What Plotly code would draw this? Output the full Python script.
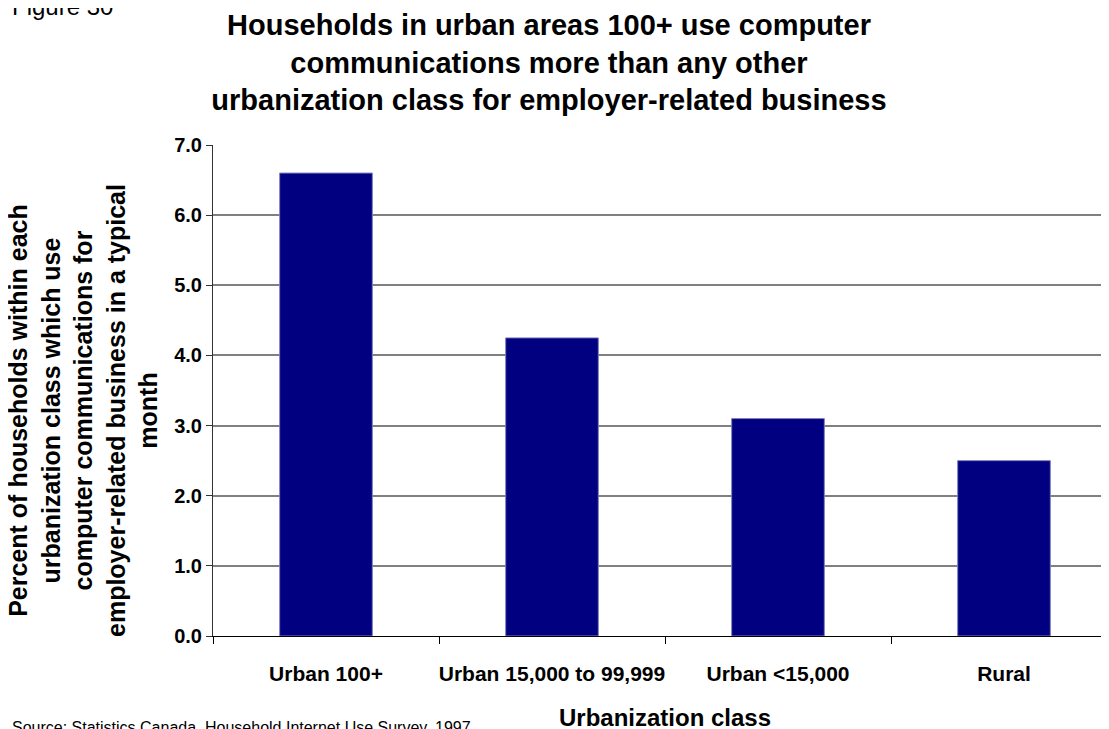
import plotly.graph_objects as go

categories = ["Urban 100+", "Urban 15,000 to 99,999", "Urban <15,000", "Rural"]
values = [6.6, 4.25, 3.1, 2.5]
y_ticks = [0, 1, 2, 3, 4, 5, 6, 7]

title_text = ("Households in urban areas 100+ use computer<br>"
              "communications more than any other<br>"
              "urbanization class for employer-related business")
y_title = ("Percent of households within each<br>urbanization class which use<br>"
           "computer communications for<br>employer-related business in a typical<br>month")
x_title = "Urbanization class"
source_text = "Source: Statistics Canada, Household Internet Use Survey, 1997"
figure_label = "Figure 30"

FONT = "Liberation Sans, Arial, sans-serif"

OFF = 8  # page body margin
W, H = 1109 - OFF, 729 - OFF
L, R, T, B = 213 - OFF, 0, 145 - OFF, H - (636 - OFF)
pw, ph = W - L - R, H - T - B
CAT = 226.0


def px_x(page_x):
    return (page_x - OFF - L) / pw


def px_y(page_y):
    return (H - B - (page_y - OFF)) / ph


fig = go.Figure()
fig.add_trace(go.Bar(
    x=categories, y=values, width=0.41,
    marker=dict(color="#000080", line=dict(color="#8080c0", width=1)),
    hoverinfo="x+y",
))

fig.update_layout(
    width=W, height=H,
    margin=dict(l=L, r=R, t=T, b=B, pad=0, autoexpand=False),
    paper_bgcolor="white", plot_bgcolor="white",
    showlegend=False,
    font=dict(family=FONT, color="black"),
    title=dict(text="<b>" + title_text + "</b>", xref="container", yref="container",
               x=(549 - OFF) / W, y=1 - (35 - OFF) / H, xanchor="center", yanchor="middle",
               font=dict(size=29, family=FONT, color="black"), automargin=False),
)

fig.update_xaxes(
    type="category", range=[-0.5, -0.5 + pw / CAT],
    showline=True, linecolor="black", linewidth=1,
    ticks="outside", tickson="boundaries", ticklen=7, tickcolor="black", tickwidth=1,
    tickfont=dict(size=21, family=FONT, color="black"),
    ticklabelstandoff=19, tickangle=0, automargin=False,
    showgrid=False,
    tickvals=categories, ticktext=["<b>" + c + "</b>" for c in categories],
)
fig.update_yaxes(
    range=[0, 7], tickvals=y_ticks, ticktext=["<b>%.1f</b>" % v for v in y_ticks],
    showline=True, linecolor="#333333", linewidth=1,
    ticks="outside", ticklen=6, tickcolor="#333333",
    tickfont=dict(size=20, family=FONT, color="black"),
    showgrid=True, gridcolor="#808080", gridwidth=2,
    zeroline=False, automargin=False,
)

fig.add_annotation(text="<b>" + y_title + "</b>", xref="paper", yref="paper",
                   x=px_x(83), y=px_y(411), xanchor="center", yanchor="middle",
                   textangle=-90, showarrow=False, align="center",
                   font=dict(size=25, family=FONT, color="black"))
fig.add_annotation(text="<b>" + x_title + "</b>", xref="x", yref="paper",
                   x=1.5, y=px_y(717), xanchor="center", yanchor="middle",
                   showarrow=False, font=dict(size=24, family=FONT, color="black"))
fig.add_annotation(text=source_text, xref="paper", yref="paper",
                   x=px_x(10), y=px_y(717), xanchor="left", yanchor="top",
                   showarrow=False, font=dict(size=16, family=FONT, color="black"))
fig.add_annotation(text=figure_label, xref="paper", yref="paper",
                   x=px_x(10), y=px_y(-9), xanchor="left", yanchor="top",
                   showarrow=False, font=dict(size=24, family=FONT, color="black"))

fig.write_html("out.html")
